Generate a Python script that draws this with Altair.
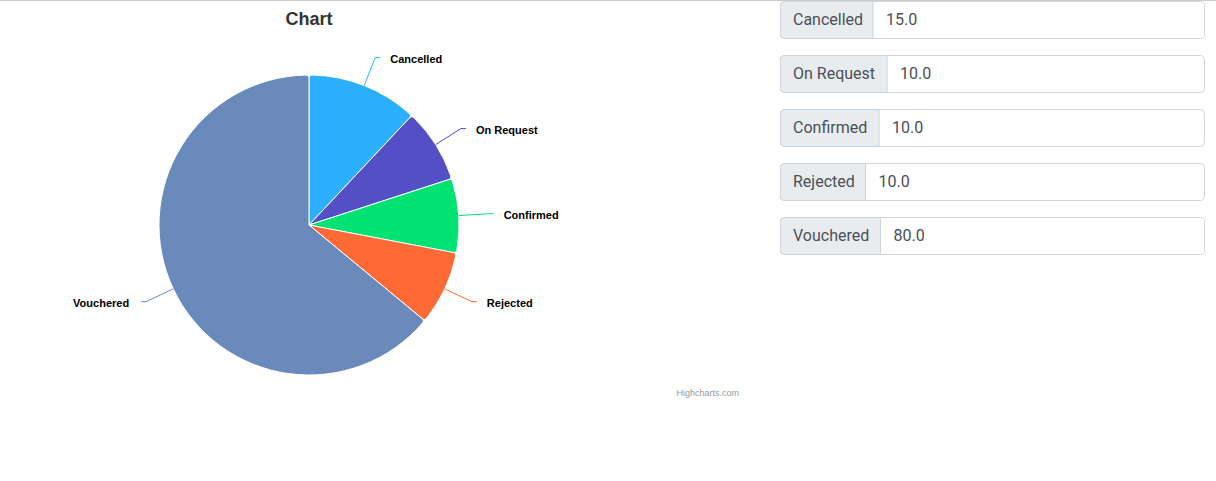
import altair as alt
import pandas as pd

# ---- data ----
categories = ["Cancelled", "On Request", "Confirmed", "Rejected", "Vouchered"]
values = [15, 10, 10, 10, 80]
value_labels = ["15.0", "10.0", "10.0", "10.0", "80.0"]
colors = ["#2caffe", "#544fc5", "#00e272", "#fe6a35", "#6b8abc"]

# ---- layout / style constants ----
CX, CY, R = 309, 225, 150
LABEL_CELL_W = {"Cancelled": 92.6, "On Request": 106.6, "Confirmed": 98.6,
                "Rejected": 85, "Vouchered": 100}
BOX_X0, BOX_X1 = 780.5, 1204.5

df = pd.DataFrame({"idx": list(range(len(categories))), "cat": categories,
                   "value": values, "vlabel": value_labels})
df["lw"] = [LABEL_CELL_W[c] for c in categories]

color_scale = alt.Scale(domain=categories, range=colors)

base = alt.Chart(df)

pie = base.mark_arc(outerRadius=R, stroke="white", strokeWidth=1, cornerRadius=3).encode(
    theta=alt.Theta("value:Q", stack=True),
    color=alt.Color("cat:N", scale=color_scale, legend=None),
    order=alt.Order("idx:Q", sort="ascending"),
    x=alt.value(CX), y=alt.value(CY),
)

lab = base.transform_joinaggregate(total="sum(value)").transform_window(
    cum="sum(value)", sort=[alt.SortField("idx")]
).transform_calculate(
    mid="(datum.cum - datum.value/2) / datum.total * 2 * PI",
).transform_calculate(
    s="sin(datum.mid)", c="cos(datum.mid)",
).transform_calculate(
    side="datum.s >= 0 ? 1 : -1",
    ex=f"{CX} + {R}*datum.s", ey=f"{CY} - {R}*datum.c",
    bx=f"{CX} + {R+30}*datum.s", by=f"{CY} - {R+30}*datum.c",
).transform_calculate(
    hx="datum.bx + 5*datum.side",
    lx="datum.bx + (datum.side > 0 ? 15 : -17)",
    ly="datum.by + 2",
)

conn1 = lab.mark_rule(strokeWidth=1).encode(
    x=alt.X("ex:Q", scale=None), y=alt.Y("ey:Q", scale=None),
    x2="bx:Q", y2="by:Q",
    color=alt.Color("cat:N", scale=color_scale, legend=None),
)
conn2 = lab.mark_rule(strokeWidth=1).encode(
    x=alt.X("bx:Q", scale=None), y=alt.Y("by:Q", scale=None),
    x2="hx:Q",
    color=alt.Color("cat:N", scale=color_scale, legend=None),
)
txt_style = dict(fontWeight="bold", fontSize=11, font="Liberation Sans",
                 baseline="middle", color="#000000")
lab_r = lab.transform_filter("datum.side > 0").mark_text(align="left", **txt_style).encode(
    x=alt.X("lx:Q", scale=None), y=alt.Y("ly:Q", scale=None), text="cat:N")
lab_l = lab.transform_filter("datum.side < 0").mark_text(align="right", **txt_style).encode(
    x=alt.X("lx:Q", scale=None), y=alt.Y("ly:Q", scale=None), text="cat:N")

title = alt.Chart(pd.DataFrame({"t": ["Chart"]})).mark_text(
    fontSize=18, fontWeight="bold", font="Liberation Sans", color="#333333",
    baseline="middle", align="center").encode(
    x=alt.value(CX), y=alt.value(20), text="t:N")

credit = alt.Chart(pd.DataFrame({"t": ["Highcharts.com"]})).mark_text(
    fontSize=9, font="Liberation Sans", color="#999999",
    baseline="middle", align="right").encode(
    x=alt.value(739), y=alt.value(393), text="t:N")

topline = alt.Chart(pd.DataFrame({"a": [0]})).mark_rule(color="#cccccc", strokeWidth=1).encode(
    x=alt.value(0), x2=alt.value(1216), y=alt.value(0.5), y2=alt.value(0.5))

# ---- input-group boxes ----
ys = alt.Scale(type="band", domain=categories, range=[1.5, 254.5],
               paddingInner=1 - 37 / 54, paddingOuter=0)
Ybox = alt.Y("cat:N", scale=ys, axis=None)
Ytxt = alt.Y("cat:N", scale=ys, axis=None, bandPosition=0.5)

boxes = base.transform_calculate(
    x0=f"{BOX_X0}", x1=f"{BOX_X1}", xl=f"{BOX_X0} + datum.lw",
    xt=f"{BOX_X0} + 12.5", xv=f"{BOX_X0} + datum.lw + 13",
)
outer = boxes.mark_rect(fill="white", stroke="#ced4da", strokeWidth=1, cornerRadius=4).encode(
    x=alt.X("x0:Q", scale=None), x2="x1:Q", y=Ybox)
cell = boxes.mark_rect(fill="#e9ecef", stroke="#ced4da", strokeWidth=1,
                       cornerRadiusTopLeft=4, cornerRadiusBottomLeft=4).encode(
    x=alt.X("x0:Q", scale=None), x2="xl:Q", y=Ybox)
box_txt = dict(fontSize=16, font="Roboto", color="#495057", baseline="middle", align="left")
cell_txt = boxes.mark_text(**box_txt).encode(
    x=alt.X("xt:Q", scale=None), y=Ytxt, text="cat:N")
val_txt = boxes.mark_text(**box_txt).encode(
    x=alt.X("xv:Q", scale=None), y=Ytxt, text="vlabel:N")

chart = alt.layer(
    topline, pie, conn1, conn2, lab_r, lab_l, title, credit,
    outer, cell, cell_txt, val_txt,
).resolve_scale(x="independent", y="independent").properties(
    width=1216, height=481, padding=0, background="white",
    autosize=alt.AutoSizeParams(type="none"),
).configure_view(strokeWidth=0, stroke=None)

chart.save("out.html", embed_options={"renderer": "svg", "actions": False})
